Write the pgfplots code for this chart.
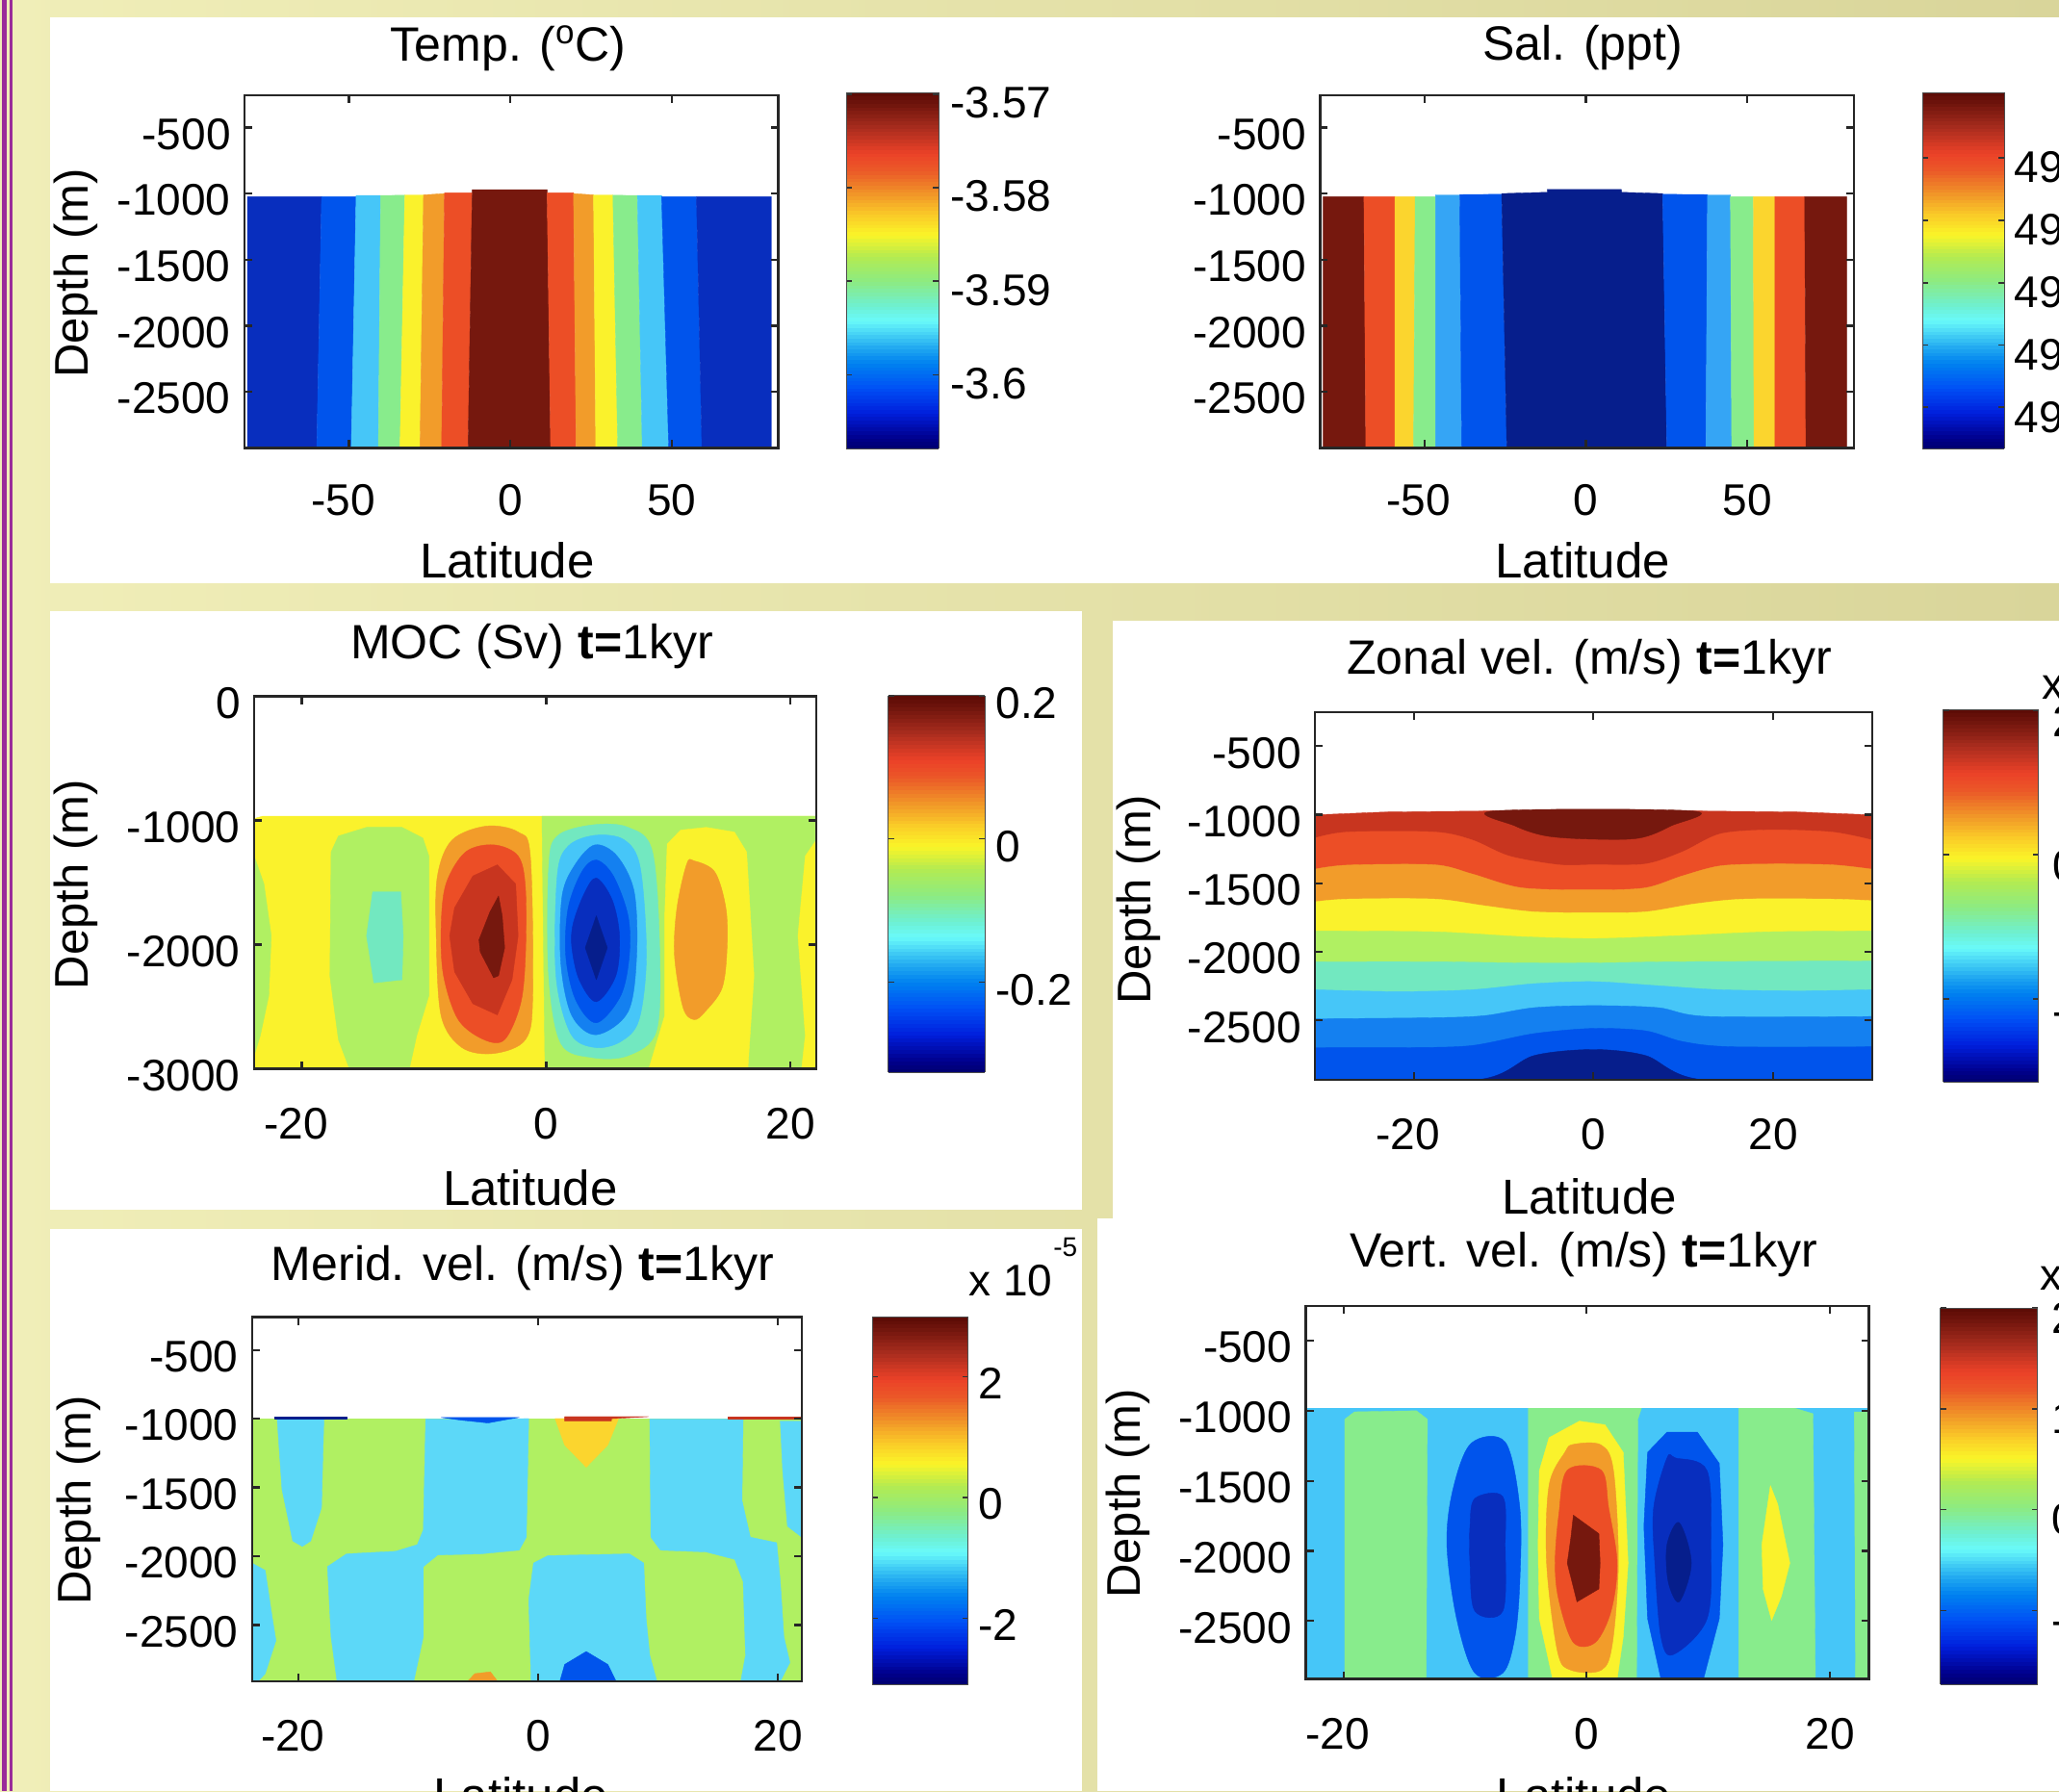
\documentclass[border=0pt]{standalone}
\usepackage{fontspec}
\setmainfont{Liberation Sans}
\usepackage{pgfplots}
\pgfplotsset{compat=1.18}

\definecolor{cNavy}{RGB}{6,30,140}
\definecolor{cDeep}{RGB}{8,46,190}
\definecolor{cBlue}{RGB}{0,84,236}
\definecolor{cMid}{RGB}{20,128,240}
\definecolor{cSky}{RGB}{70,198,248}
\definecolor{cSal}{RGB}{53,165,245}
\definecolor{cAqua}{RGB}{114,232,192}
\definecolor{cGrn}{RGB}{136,236,140}
\definecolor{cLime}{RGB}{176,240,98}
\definecolor{cYel}{RGB}{250,242,44}
\definecolor{cGold}{RGB}{251,213,46}
\definecolor{cOra}{RGB}{242,156,42}
\definecolor{cRed}{RGB}{236,78,38}
\definecolor{cBrick}{RGB}{200,53,31}
\definecolor{cMar}{RGB}{118,24,14}
\definecolor{cPur}{RGB}{154,44,154}
\definecolor{cMSky}{RGB}{92,216,248}

\newcommand\poly[2]{\addplot[fill=#1,draw=#1,line width=.2pt,line join=round,forget plot] coordinates {#2} --cycle;}
\newcommand\lobe[2]{\addplot[fill=#1,draw=#1,line width=.2pt,smooth cycle,tension=.55,forget plot] coordinates {#2};}
\newcommand\band[2]{\addplot[fill=#1,draw=#1,line width=.2pt,smooth,tension=.5,forget plot] coordinates {#2} -- (axis cs:31,-2931) -- (axis cs:-31,-2931) -- cycle;}

\pgfplotsset{
  colormap={matjet}{[1pt]
    rgb255(0pt)=(0,0,110); rgb255(3pt)=(0,0,140); rgb255(10pt)=(0,30,220);
    rgb255(17pt)=(0,80,245); rgb255(24pt)=(0,130,240); rgb255(28pt)=(30,165,240);
    rgb255(36pt)=(105,250,250); rgb255(40pt)=(110,240,210); rgb255(47pt)=(140,235,130);
    rgb255(54pt)=(180,235,80); rgb255(60pt)=(250,245,40); rgb255(66pt)=(250,200,40);
    rgb255(72pt)=(240,145,40); rgb255(78pt)=(235,90,40); rgb255(83pt)=(235,65,40);
    rgb255(90pt)=(170,45,30); rgb255(97pt)=(110,20,12); rgb255(100pt)=(90,10,5)},
  panel/.style={
    scale only axis, anchor=north west, axis on top,
    axis line style={line width=1.2pt,color=black!85},
    tick style={line width=1.1pt,color=black!85},
    major tick length=4pt, tick align=inside,
    font=\fontsize{23}{26}\selectfont,
    xticklabel style={inner sep=0pt,yshift=-20pt},
    yticklabel style={inner sep=0pt,xshift=-7pt,yshift=-3.5pt},
    title style={anchor=center,inner sep=0pt,yshift=-8pt,font=\fontsize{25}{28}\selectfont},
    xlabel style={anchor=center,inner sep=0pt,font=\fontsize{25.5}{28}\selectfont},
    ylabel style={anchor=center,inner sep=0pt,rotate=0,font=\fontsize{24.5}{26}\selectfont},
    colorbar sampled,
  },
  cbar/.style={
    scale only axis, anchor=north west, samples=101,
    surf, shader=flat,
    axis line style={line width=.4pt,color=black!70},
    tick style={line width=.8pt,color=black!80},
    major tick length=3pt, tick align=inside,
    yticklabel pos=right, ytick pos=both,
    font=\fontsize{23}{26}\selectfont,
  },
}

\begin{document}
\begin{tikzpicture}[x=1pt,y=1pt]
\path[use as bounding box] (0,0) rectangle (1069.5,-930.5);
\clip (0,0) rectangle (1069.5,-930.5);
% slide background and white panels
\shade[left color={rgb,255:red,240;green,238;blue,184},right color={rgb,255:red,217;green,213;blue,154}] (0,0) rectangle (1069.5,-930.5);
\fill[cPur] (1,0) rectangle (3.5,-930.5);
\fill[cPur] (5,0) rectangle (6.5,-930.5);
\fill[white] (26,-9) rectangle (1069.5,-303);
\fill[white] (26,-317.5) rectangle (562,-628.5);
\fill[white] (578,-322.5) rectangle (1069.5,-633);
\fill[white] (26,-638.5) rectangle (562,-930.5);
\fill[white] (570,-633) rectangle (1069.5,-930.5);

% ---------- Temperature
\begin{axis}[panel, at={(127pt,-49.5pt)}, width=277.3pt, height=183.2pt,
  xmin=-82.4, xmax=83.1, ymin=-2925, ymax=-256,
  xtick={-50,0,50}, xticklabels={-50\kern6pt,0,50},
  xticklabel style={yshift=1pt},
  ytick={-2500,-2000,-1500,-1000,-500}, yticklabels={-2500,-2000,-1500,-1000,-500},
  title={Temp. ($^{\mathrm{o}}$C)}, title style={at={(.494,1.145)}},
  xlabel={Latitude}, xlabel style={at={(.492,-.32)}},
  ylabel={Depth (m)}, ylabel style={at={(-.3155,.495)}},
  colormap name=matjet, point meta min=-3.6079, point meta max=-3.5698,
  colorbar style={cbar, at={(1.127,1.008)}, width=48pt, height=185pt,
    ytick={-3.6,-3.59,-3.58,-3.57}, yticklabels={-3.6,-3.59,-3.58,-3.57},
    yticklabel style={inner sep=0pt,xshift=6pt,yshift=-4.5pt}},
]
\poly{cDeep}{(-81.5,-1024)(-58.5,-1024)(-60,-2923)(-81.5,-2923)}
\poly{cBlue}{(-58.5,-1024)(-47.8,-1024)(-49.3,-2923)(-60,-2923)}
\poly{cSky}{(-47.8,-1015)(-40.2,-1015)(-40.9,-2923)(-49.3,-2923)}
\poly{cGrn}{(-40.2,-1015)(-32.7,-1012)(-34.2,-2923)(-40.9,-2923)}
\poly{cYel}{(-32.7,-1010)(-26.9,-1010)(-28,-2923)(-34.2,-2923)}
\poly{cOra}{(-26.9,-1010)(-20.4,-1000)(-21.3,-2923)(-28,-2923)}
\poly{cRed}{(-20.4,-995)(-11.8,-995)(-13.1,-2923)(-21.3,-2923)}
\poly{cMar}{(-11.8,-970)(11.4,-970)(12.5,-2923)(-13.1,-2923)}
\poly{cRed}{(11.4,-995)(19.6,-995)(20.4,-2923)(12.5,-2923)}
\poly{cOra}{(19.6,-1000)(25.8,-1010)(26.5,-2923)(20.4,-2923)}
\poly{cYel}{(25.8,-1010)(31.8,-1010)(33.3,-2923)(26.5,-2923)}
\poly{cGrn}{(31.8,-1012)(39.4,-1015)(40.9,-2923)(33.3,-2923)}
\poly{cSky}{(39.4,-1015)(46.9,-1015)(49.1,-2923)(40.9,-2923)}
\poly{cBlue}{(46.9,-1024)(57.7,-1024)(59.4,-2923)(49.1,-2923)}
\poly{cDeep}{(57.7,-1024)(80.9,-1024)(80.9,-2923)(59.4,-2923)}
\end{axis}

% ---------- Salinity
\begin{axis}[panel, at={(685.65pt,-49.5pt)}, width=277.35pt, height=183.2pt,
  xmin=-82.4, xmax=83.1, ymin=-2925, ymax=-256,
  xtick={-50,0,50}, xticklabels={-50\kern6pt,0,50},
  xticklabel style={yshift=1pt},
  ytick={-2500,-2000,-1500,-1000,-500}, yticklabels={-2500,-2000,-1500,-1000,-500},
  title={Sal. (ppt)}, title style={at={(.492,1.145)}},
  xlabel={Latitude}, xlabel style={at={(.492,-.32)}},
  colormap name=matjet, point meta min=49.034, point meta max=49.605,
  colorbar style={cbar, at={(1.128,1.008)}, width=42.5pt, height=185pt,
    ytick={49.1,49.2,49.3,49.4,49.5}, yticklabels={49,49,49,49,49},
    yticklabel style={inner sep=0pt,xshift=5pt,yshift=-5pt}},
]
\poly{cMar}{(-81.4,-1024)(-68.8,-1024)(-68.2,-2923)(-81.4,-2923)}
\poly{cRed}{(-68.8,-1024)(-59.2,-1024)(-59.2,-2923)(-68.2,-2923)}
\poly{cGold}{(-59.2,-1024)(-52.9,-1024)(-53.4,-2923)(-59.2,-2923)}
\poly{cGrn}{(-52.9,-1024)(-46.6,-1024)(-46.6,-2923)(-53.4,-2923)}
\poly{cSal}{(-46.6,-1010)(-39.1,-1010)(-38.5,-2923)(-46.6,-2923)}
\poly{cBlue}{(-39.1,-1008)(-26.1,-1005)(-24.5,-2923)(-38.5,-2923)}
\poly{cNavy}{(-26.1,-1000)(-12,-990)(-12,-969)(11,-969)(11,-990)(23.8,-1000)(25.1,-2923)(-24.5,-2923)}
\poly{cBlue}{(23.8,-1005)(37.7,-1008)(37.2,-2923)(25.1,-2923)}
\poly{cSal}{(37.7,-1010)(44.8,-1010)(45.2,-2923)(37.2,-2923)}
\poly{cGrn}{(44.8,-1024)(51.9,-1024)(52.1,-2923)(45.2,-2923)}
\poly{cGold}{(51.9,-1024)(58.6,-1024)(58.6,-2923)(52.1,-2923)}
\poly{cRed}{(58.6,-1024)(67.8,-1024)(68.2,-2923)(58.6,-2923)}
\poly{cMar}{(67.8,-1024)(80.8,-1024)(80.8,-2923)(68.2,-2923)}
\end{axis}

% ---------- MOC
\begin{axis}[panel, at={(132pt,-361.8pt)}, width=292pt, height=193.45pt,
  xmin=-23.9, xmax=22.1, ymin=-3000, ymax=0,
  xtick={-20,0,20}, xticklabels={-20\kern6pt,0,20},
  ytick={-3000,-2000,-1000,0}, yticklabels={-3000,-2000,-1000,0},
  title={MOC (Sv) \textbf{t=}1kyr}, title style={at={(.494,1.146)}},
  xlabel={Latitude}, xlabel style={at={(.491,-.32)}},
  ylabel={Depth (m)}, ylabel style={at={(-.317,.494)}},
  colormap name=matjet, point meta min=-0.326, point meta max=0.2,
  colorbar style={cbar, at={(1.128,1.002)}, width=50.2pt, height=195.6pt,
    ytick={-0.2,0,0.2}, yticklabels={-0.2,0,0.2},
    yticklabel style={inner sep=0pt,xshift=5.5pt,yshift=-4pt}},
]
\poly{cYel}{(-23.2,-965)(22.1,-965)(22.1,-3000)(-23.9,-3000)(-23.9,-985)}
\poly{cLime}{(-23.9,-1286)(-23.1,-1511)(-22.5,-1929)(-22.7,-2411)(-23.4,-2733)(-23.9,-2894)}
\poly{cLime}{(-17.6,-1254)(-17,-1125)(-14.7,-1055)(-11.8,-1055)(-10.1,-1141)(-9.6,-1286)(-9.6,-2411)(-10.6,-2733)(-11.2,-3000)(-16.1,-3000)(-17,-2765)(-17.7,-2250)}
\poly{cAqua}{(-14.2,-1575)(-11.9,-1575)(-11.7,-1929)(-11.8,-2283)(-14.1,-2308)(-14.7,-1929)}
\lobe{cOra}{(-8.9,-1447)(-7.7,-1157)(-4.9,-1045)(-2.3,-1093)(-1.3,-1286)(-1.1,-2411)(-1.7,-2765)(-4.3,-2877)(-6.9,-2829)(-8.6,-2572)(-9,-1929)}
\lobe{cRed}{(-8.2,-1511)(-6.6,-1254)(-4.3,-1196)(-2.3,-1286)(-1.7,-1543)(-1.7,-2090)(-2.1,-2476)(-3.4,-2765)(-5.1,-2765)(-7.2,-2604)(-8.4,-2250)(-8.6,-1865)}
\poly{cBrick}{(-7.5,-1704)(-6,-1447)(-4,-1357)(-2.5,-1511)(-2.3,-1929)(-2.8,-2283)(-4,-2566)(-6,-2476)(-7.5,-2218)(-7.9,-1929)}
\poly{cMar}{(-5.5,-1961)(-4.6,-1736)(-3.9,-1608)(-3.6,-1768)(-3.4,-2025)(-3.9,-2250)(-4.3,-2267)(-5.4,-2058)}
\poly{cLime}{(-0.35,-965)(22.1,-965)(22.1,-3000)(-0.1,-3000)}
\poly{cYel}{(9.9,-1190)(11,-1077)(13.1,-1055)(15.4,-1093)(16.4,-1254)(17,-2250)(16.5,-3000)(8.4,-3000)(9.7,-2572)(9.7,-1768)}
\poly{cYel}{(22.1,-1157)(21.2,-1286)(20.6,-1929)(21.2,-2733)(20.9,-3000)(22.1,-3000)}
\lobe{cOra}{(10.7,-1704)(11.5,-1350)(12.1,-1325)(13.8,-1415)(14.7,-1704)(14.8,-2025)(14.4,-2347)(13,-2540)(12.1,-2604)(11.2,-2508)(10.5,-2090)}
\lobe{cAqua}{(0.2,-1382)(0.9,-1125)(3.8,-1035)(6.7,-1055)(8.7,-1254)(9.3,-2090)(9,-2701)(6.7,-2894)(3.8,-2910)(1.2,-2797)(0.2,-2250)}
\lobe{cSky}{(0.9,-1447)(1.8,-1206)(4,-1119)(6.4,-1157)(7.7,-1382)(8.2,-2090)(7.6,-2604)(6.1,-2781)(4,-2829)(2,-2717)(0.8,-2250)}
\lobe{cMid}{(1.3,-1608)(2.4,-1350)(4,-1196)(5.8,-1286)(7.2,-1575)(7.4,-2090)(6.7,-2540)(4.1,-2726)(2.1,-2572)(1.2,-2154)}
\lobe{cBlue}{(1.8,-1704)(2.9,-1415)(4.1,-1318)(5.5,-1447)(6.7,-1768)(6.8,-2090)(6.1,-2411)(4.1,-2630)(2.4,-2443)(1.6,-2090)}
\lobe{cDeep}{(2.2,-1833)(3.1,-1591)(4.1,-1463)(5.4,-1640)(6,-1929)(5.7,-2250)(4.1,-2460)(2.7,-2283)(2.1,-2025)}
\poly{cNavy}{(3.2,-2025)(4.1,-1768)(5,-2025)(4.1,-2283)}
\end{axis}

% ---------- Zonal velocity
\begin{axis}[panel, at={(683pt,-370pt)}, width=289.35pt, height=190.85pt,
  xmin=-31, xmax=31, ymin=-2931, ymax=-252,
  xtick={-20,0,20}, xticklabels={-20\kern6pt,0,20},
  ytick={-2500,-2000,-1500,-1000,-500}, yticklabels={-2500,-2000,-1500,-1000,-500},
  title={Zonal vel. (m/s) \textbf{t=}1kyr}, title style={at={(.4925,1.148)}},
  xlabel={Latitude}, xlabel style={at={(.4925,-.318)}},
  ylabel={Depth (m)}, ylabel style={at={(-.316,.49)}},
  colormap name=matjet, point meta min=-3.15, point meta max=2.01,
  colorbar style={cbar, at={(1.128,1.008)}, width=49.5pt, height=193.75pt,
    ytick={-2,0,2}, yticklabels={-2,0,2},
    yticklabel style={inner sep=0pt,xshift=7pt,yshift=-6pt}},
]
\poly{cBrick}{(-31,-1001)(-23.2,-980)(-11.1,-972)(11,-972)(23,-980)(31,-1001)(31,-2931)(-31,-2931)}
\lobe{cMar}{(-11.1,-972)(11,-972)(8.6,-1082)(5.1,-1170)(0,-1178)(-5.2,-1155)(-8.7,-1082)}
\band{cRed}{(-31,-1170)(-27.3,-1126)(-17.7,-1126)(-13.5,-1184)(-9.4,-1301)(-3.9,-1365)(0,-1365)(5.8,-1359)(9.9,-1271)(14.1,-1140)(19.6,-1111)(26.5,-1126)(31,-1184)}
\band{cOra}{(-31,-1397)(-27.3,-1367)(-17.7,-1365)(-13.5,-1432)(-8,-1533)(0,-1548)(5.8,-1533)(9.9,-1446)(14.1,-1373)(19.6,-1359)(26.5,-1365)(31,-1397)}
\band{cYel}{(-31,-1635)(-27.3,-1615)(-17.7,-1615)(-12.1,-1664)(-6.6,-1708)(0,-1714)(5.8,-1708)(11.3,-1650)(16.8,-1615)(26.5,-1615)(31,-1627)}
\band{cLime}{(-31,-1848)(-17.7,-1854)(-8,-1889)(0,-1903)(9.2,-1883)(19.6,-1854)(31,-1848)}
\band{cAqua}{(-31,-2072)(-17.7,-2072)(-8,-2081)(0,-2081)(9.2,-2072)(31,-2066)}
\band{cSky}{(-31,-2276)(-21.8,-2290)(-13.5,-2276)(-6.6,-2232)(0,-2217)(7.2,-2247)(14.1,-2276)(23,-2284)(31,-2276)}
\band{cMid}{(-31,-2488)(-17.7,-2480)(-12.1,-2465)(-6.6,-2407)(0,-2392)(7.2,-2407)(12.7,-2471)(31,-2471)}
\band{cBlue}{(-31,-2698)(-20.4,-2698)(-13.5,-2683)(-6.6,-2596)(0,-2558)(5.8,-2576)(9.9,-2654)(15.4,-2692)(31,-2692)}
\band{cNavy}{(-31,-2931)(-12.8,-2931)(-6.6,-2756)(0,-2712)(5.8,-2756)(12,-2931)(31,-2931)}
\end{axis}

% ---------- Meridional velocity
\begin{axis}[panel, at={(130.9pt,-684.25pt)}, width=285.6pt, height=189.25pt,
  xmin=-23.9, xmax=22, ymin=-2910, ymax=-261,
  xtick={-20,0,20}, xticklabels={-20\kern6pt,0,20},
  ytick={-2500,-2000,-1500,-1000,-500}, yticklabels={-2500,-2000,-1500,-1000,-500},
  title={Merid. vel. (m/s) \textbf{t=}1kyr}, title style={at={(.492,1.144)}},
  xlabel={Latitude}, xlabel style={at={(.489,-.312)}},
  ylabel={Depth (m)}, ylabel style={at={(-.315,.497)}},
  colormap name=matjet, point meta min=-3.09, point meta max=2.99,
  colorbar style={cbar, at={(1.128,1.001)}, width=49.75pt, height=191pt,
    ytick={-2,0,2}, yticklabels={-2,0,2},
    yticklabel style={inner sep=0pt,xshift=5pt,yshift=-3.5pt}},
]
\poly{cLime}{(-23.9,-999)(22,-999)(22,-2910)(-23.9,-2910)}
\poly{cMSky}{(-21.8,-1004)(-17.9,-1004)(-18.1,-1647)(-19,-1889)(-19.7,-1929)(-20.5,-1889)(-21.4,-1513)}
\poly{cMSky}{(-9.4,-1004)(-0.8,-999)(-1,-1862)(-1.6,-1956)(-4.8,-1983)(-8.4,-1991)(-9.6,-2076)(-9.6,-2586)(-10.4,-2910)(-16.8,-2910)(-17.3,-2586)(-17.6,-2076)(-16,-1983)(-11.9,-1964)(-10.1,-1916)(-9.6,-1808)}
\poly{cMSky}{(9.3,-1004)(17.1,-1004)(17,-1594)(17.7,-1862)(19.9,-1902)(20.2,-2184)(20.5,-2586)(21,-2773)(20.2,-2910)(16.9,-2910)(17.3,-2720)(17.1,-2184)(16.4,-2023)(14,-1969)(10.2,-1956)(9.4,-1862)}
\poly{cMSky}{(20.2,-1017)(22,-1017)(22,-1862)(20.8,-1782)(20.4,-1379)}
\poly{cMSky}{(-23.9,-2050)(-22.8,-2103)(-22.2,-2452)(-21.9,-2613)(-22.8,-2854)(-23.4,-2910)(-23.9,-2910)}
\poly{cMSky}{(-0.6,-2910)(-0.8,-2318)(-0.4,-2050)(0.8,-1996)(7.6,-1983)(8.8,-2050)(9,-2452)(9.3,-2720)(9.9,-2910)}
\poly{cBlue}{(1.8,-2910)(2.2,-2787)(4,-2693)(5.8,-2787)(6.5,-2910)}
\poly{cGold}{(1.4,-999)(6.7,-999)(5.8,-1192)(4,-1353)(2.2,-1192)}
\poly{cOra}{(-5.9,-2910)(-5.3,-2854)(-4,-2841)(-3.4,-2910)}
\poly{cBrick}{(2.2,-985)(9.2,-985)(6.1,-1000)(6.1,-1017)(2.2,-1017)}
\poly{cBlue}{(-8.1,-991)(-1.6,-991)(-2.5,-1004)(-4.2,-1031)(-6.5,-1010)}
\poly{cNavy}{(-22,-985)(-16,-985)(-16,-1000)(-22,-1000)}
\poly{cBrick}{(15.8,-985)(22,-985)(22,-999)(15.8,-999)}
\end{axis}

% ---------- Vertical velocity
\begin{axis}[panel, at={(678.25pt,-678.5pt)}, width=292.5pt, height=193.75pt,
  xmin=-23.1, xmax=23.2, ymin=-2913, ymax=-253,
  xtick={-20,0,20}, xticklabels={-20\kern6pt,0,20},
  ytick={-2500,-2000,-1500,-1000,-500}, yticklabels={-2500,-2000,-1500,-1000,-500},
  title={Vert. vel. (m/s) \textbf{t=}1kyr}, title style={at={(.493,1.147)}},
  xlabel={Latitude}, xlabel style={at={(.494,-.311)}},
  ylabel={Depth (m)}, ylabel style={at={(-.315,.497)}},
  colormap name=matjet, point meta min=-1.73, point meta max=2,
  colorbar style={cbar, at={(1.127,.995)}, width=50.5pt, height=195.5pt,
    ytick={-1,0,1,2}, yticklabels={-1,0,1,2},
    yticklabel style={inner sep=0pt,xshift=7pt,yshift=-5pt}},
]
\poly{cSky}{(-23.1,-982)(23.2,-982)(23.2,-2913)(-23.1,-2913)}
\poly{cGrn}{(-19.9,-1061)(-19.1,-1008)(-14,-1000)(-13.1,-1061)(-13.2,-2913)(-19.9,-2913)}
\poly{cGrn}{(-4.8,-982)(4.5,-982)(4.2,-1061)(4.1,-2913)(-4.8,-2913)}
\poly{cGrn}{(12.5,-982)(17.1,-982)(18.6,-1021)(18.8,-2913)(12.5,-2913)}
\poly{cGrn}{(22,-1008)(23.1,-1008)(23.1,-2913)(22.1,-2913)}
\poly{cYel}{(-3.9,-1429)(-3.1,-1192)(-0.6,-1074)(1.5,-1100)(3,-1297)(3.4,-2087)(3,-2613)(2.5,-2913)(-2.8,-2913)(-3.9,-2482)(-4,-1955)}
\lobe{cOra}{(-3.1,-1534)(-1.8,-1297)(-1.1,-1240)(1.2,-1245)(2.2,-1429)(2.6,-2087)(2.1,-2666)(1.2,-2850)(-1.3,-2850)(-2.4,-2719)(-3.3,-2087)}
\lobe{cRed}{(-2.3,-1745)(-1.6,-1424)(1.2,-1424)(1.8,-1692)(2.5,-2087)(2,-2429)(0.7,-2653)(-1.1,-2653)(-2.3,-2350)(-2.6,-2087)}
\poly{cMar}{(-1.3,-1903)(-1.1,-1745)(1,-1877)(1.1,-2087)(1,-2271)(-.8,-2363)(-1.6,-2087)}
\lobe{cBlue}{(-11.5,-1955)(-11,-1561)(-9.5,-1232)(-6.7,-1224)(-5.5,-1692)(-5.5,-2219)(-5.9,-2613)(-6.9,-2871)(-9.2,-2871)(-10.7,-2482)}
\lobe{cDeep}{(-9.6,-1824)(-9.2,-1626)(-6.9,-1613)(-6.7,-1955)(-6.9,-2429)(-9.2,-2429)(-9.6,-2087)}
\poly{cBlue}{(4.7,-1824)(5,-1297)(6.6,-1153)(9.1,-1153)(10.9,-1376)(11.2,-1955)(10.9,-2482)(9.6,-2913)(6.1,-2913)(5,-2482)}
\lobe{cDeep}{(5.5,-1692)(6.6,-1337)(7.3,-1337)(9.9,-1429)(10.2,-1955)(9.9,-2482)(7.1,-2740)(6.1,-2613)(5.6,-2087)}
\lobe{cNavy}{(6.6,-1955)(7.6,-1798)(8.6,-2087)(7.6,-2363)(6.7,-2219)}
\poly{cYel}{(15.1,-1534)(15.7,-1666)(16.7,-2087)(16,-2324)(15.2,-2495)(14.5,-2271)(14.4,-1955)}
\end{axis}

% multipliers above the colour bars
\node[anchor=west,inner sep=0pt,font=\fontsize{23}{26}\selectfont] at (503,-665.5) {x 10};
\node[anchor=west,inner sep=0pt,font=\fontsize{14}{16}\selectfont] at (547,-648) {-5};
\node[anchor=west,inner sep=0pt,font=\fontsize{23}{26}\selectfont] at (1060.5,-355.5) {x 10};
\node[anchor=west,inner sep=0pt,font=\fontsize{23}{26}\selectfont] at (1059.5,-662.5) {x 10};
\end{tikzpicture}
\end{document}
